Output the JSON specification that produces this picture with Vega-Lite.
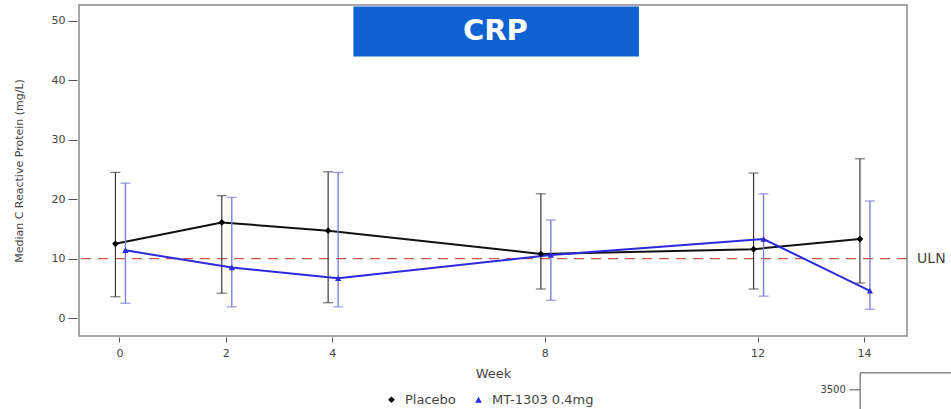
{
  "$schema": "https://vega.github.io/schema/vega-lite/v6.json",
  "width": 828,
  "height": 331,
  "autosize": {"type": "none"},
  "padding": {"left": 79, "top": 5, "right": 44, "bottom": 73},
  "background": "white",
  "config": {
    "font": "DejaVu Sans",
    "view": {"stroke": "#8a8a8a", "strokeWidth": 1.5}
  },
  "datasets": {
    "crp": [
      {"week": 0, "group": "Placebo", "median": 12.5, "lower": 3.6, "upper": 24.5},
      {"week": 2, "group": "Placebo", "median": 16.1, "lower": 4.2, "upper": 20.6},
      {"week": 4, "group": "Placebo", "median": 14.7, "lower": 2.6, "upper": 24.6},
      {"week": 8, "group": "Placebo", "median": 10.8, "lower": 4.9, "upper": 20.9},
      {"week": 12, "group": "Placebo", "median": 11.6, "lower": 4.9, "upper": 24.4},
      {"week": 14, "group": "Placebo", "median": 13.3, "lower": 5.9, "upper": 26.8},
      {"week": 0, "group": "MT-1303 0.4mg", "median": 11.4, "lower": 2.5, "upper": 22.7},
      {"week": 2, "group": "MT-1303 0.4mg", "median": 8.5, "lower": 1.9, "upper": 20.3},
      {"week": 4, "group": "MT-1303 0.4mg", "median": 6.7, "lower": 1.9, "upper": 24.5},
      {"week": 8, "group": "MT-1303 0.4mg", "median": 10.6, "lower": 3.0, "upper": 16.5},
      {"week": 12, "group": "MT-1303 0.4mg", "median": 13.3, "lower": 3.7, "upper": 20.9},
      {"week": 14, "group": "MT-1303 0.4mg", "median": 4.6, "lower": 1.5, "upper": 19.7}
    ],
    "titlebox": [{"x": 4.40, "x2": 9.77, "y": 52.4, "y2": 44.0, "xc": 7.07, "yc": 48.2, "label": "CRP"}],
    "uln": [{"x": 15.0, "y": 10, "label": "ULN"}],
    "frag": [{"x": 13.93, "x2": 15.7, "y": -9.19, "y2": -15.5, "tx": 13.66, "ty": -12.05, "label": "3500", "tk1": 13.73, "tk2": 13.93}]
  },
  "layer": [
    {
      "data": {"name": "titlebox"},
      "mark": {"type": "rect", "color": "#0f62d2"},
      "encoding": {
        "x": {"field": "x", "type": "quantitative", "scale": {"domain": [-0.76, 14.81], "nice": false, "zero": false},
          "axis": {"values": [0, 2, 4, 8, 12, 14], "grid": false, "domain": false, "tickSize": 5, "offset": 1, "tickColor": "#555", "labelFontSize": 11, "labelColor": "#444", "labelPadding": 5, "title": "Week", "titleFontSize": 13, "titleFontWeight": "normal", "titleColor": "#444", "titlePadding": 9}},
        "x2": {"field": "x2"},
        "y": {"field": "y", "type": "quantitative", "scale": {"domain": [-3, 52.65], "nice": false, "zero": false},
          "axis": {"values": [0, 10, 20, 30, 40, 50], "grid": false, "domain": false, "tickSize": 9, "offset": 2, "tickColor": "#555", "labelFontSize": 11, "labelColor": "#444", "labelPadding": 3, "title": "Median C Reactive Protein (mg/L)", "titleFontSize": 11, "titleFontWeight": "normal", "titleColor": "#444", "titlePadding": 27}},
        "y2": {"field": "y2"}
      }
    },
    {
      "data": {"name": "titlebox"},
      "mark": {"type": "text", "color": "white", "fontWeight": "bold", "fontSize": 29, "align": "center", "baseline": "middle", "font": "DejaVu Sans"},
      "encoding": {
        "x": {"field": "xc", "type": "quantitative"},
        "y": {"field": "yc", "type": "quantitative"},
        "text": {"field": "label"}
      }
    },
    {
      "data": {"name": "uln"},
      "mark": {"type": "rule", "color": "#d25050", "strokeDash": [10, 7], "strokeWidth": 1.2},
      "encoding": {"y": {"field": "y", "type": "quantitative"}}
    },
    {
      "data": {"name": "uln"},
      "mark": {"type": "text", "color": "#444", "fontSize": 14, "align": "left", "baseline": "middle"},
      "encoding": {
        "x": {"field": "x", "type": "quantitative"},
        "y": {"field": "y", "type": "quantitative"},
        "text": {"field": "label"}
      }
    },
    {
      "data": {"name": "crp"},
      "transform": [{"filter": "datum.group === 'Placebo'"}],
      "layer": [
        {"mark": {"type": "rule", "color": "#3a3a3a", "strokeWidth": 1.2, "xOffset": -4},
          "encoding": {"x": {"field": "week", "type": "quantitative"}, "y": {"field": "lower", "type": "quantitative"}, "y2": {"field": "upper"}}},
        {"mark": {"type": "tick", "orient": "horizontal", "color": "#3a3a3a", "thickness": 1.2, "size": 10, "xOffset": -4},
          "encoding": {"x": {"field": "week", "type": "quantitative"}, "y": {"field": "upper", "type": "quantitative"}}},
        {"mark": {"type": "tick", "orient": "horizontal", "color": "#3a3a3a", "thickness": 1.2, "size": 10, "xOffset": -4},
          "encoding": {"x": {"field": "week", "type": "quantitative"}, "y": {"field": "lower", "type": "quantitative"}}},
        {"mark": {"type": "line", "color": "#111111", "strokeWidth": 2, "xOffset": -4},
          "encoding": {"x": {"field": "week", "type": "quantitative"}, "y": {"field": "median", "type": "quantitative"}}}
      ]
    },
    {
      "data": {"name": "crp"},
      "transform": [{"filter": "datum.group !== 'Placebo'"}],
      "layer": [
        {"mark": {"type": "rule", "color": "#7d7dd8", "strokeWidth": 1.4, "xOffset": 6},
          "encoding": {"x": {"field": "week", "type": "quantitative"}, "y": {"field": "lower", "type": "quantitative"}, "y2": {"field": "upper"}}},
        {"mark": {"type": "tick", "orient": "horizontal", "color": "#7d7dd8", "thickness": 1.4, "size": 10, "xOffset": 6},
          "encoding": {"x": {"field": "week", "type": "quantitative"}, "y": {"field": "upper", "type": "quantitative"}}},
        {"mark": {"type": "tick", "orient": "horizontal", "color": "#7d7dd8", "thickness": 1.4, "size": 10, "xOffset": 6},
          "encoding": {"x": {"field": "week", "type": "quantitative"}, "y": {"field": "lower", "type": "quantitative"}}},
        {"mark": {"type": "line", "color": "#2b2bdc", "strokeWidth": 2, "xOffset": 6},
          "encoding": {"x": {"field": "week", "type": "quantitative"}, "y": {"field": "median", "type": "quantitative"}}}
      ]
    },
    {
      "data": {"name": "crp"},
      "transform": [{"filter": "datum.group === 'Placebo'"}],
      "mark": {"type": "point", "filled": true, "opacity": 1, "size": 45, "xOffset": -4},
      "encoding": {
        "x": {"field": "week", "type": "quantitative"},
        "y": {"field": "median", "type": "quantitative"},
        "color": {"field": "group", "type": "nominal", "scale": {"domain": ["Placebo", "MT-1303 0.4mg"], "range": ["#000000", "#2b2bdc"]},
          "legend": {"orient": "none", "legendX": 306, "legendY": 388, "direction": "horizontal", "title": null, "labelFontSize": 13, "labelColor": "#444", "symbolSize": 45, "columnPadding": 16, "labelOffset": 7}},
        "shape": {"field": "group", "type": "nominal", "scale": {"domain": ["Placebo", "MT-1303 0.4mg"], "range": ["diamond", "triangle-up"]}}
      }
    },
    {
      "data": {"name": "crp"},
      "transform": [{"filter": "datum.group !== 'Placebo'"}],
      "mark": {"type": "point", "filled": true, "opacity": 1, "size": 40, "xOffset": 6},
      "encoding": {
        "x": {"field": "week", "type": "quantitative"},
        "y": {"field": "median", "type": "quantitative"},
        "color": {"field": "group", "type": "nominal"},
        "shape": {"field": "group", "type": "nominal"}
      }
    },
    {
      "data": {"name": "frag"},
      "mark": {"type": "rule", "color": "#8a8a8a", "strokeWidth": 1.5},
      "encoding": {"x": {"field": "x", "type": "quantitative"}, "x2": {"field": "x2"}, "y": {"field": "y", "type": "quantitative"}}
    },
    {
      "data": {"name": "frag"},
      "mark": {"type": "rule", "color": "#8a8a8a", "strokeWidth": 1.5},
      "encoding": {"x": {"field": "x", "type": "quantitative"}, "y": {"field": "y", "type": "quantitative"}, "y2": {"field": "y2"}}
    },
    {
      "data": {"name": "frag"},
      "mark": {"type": "rule", "color": "#555", "strokeWidth": 1},
      "encoding": {"x": {"field": "tk1", "type": "quantitative"}, "x2": {"field": "tk2"}, "y": {"field": "ty", "type": "quantitative"}}
    },
    {
      "data": {"name": "frag"},
      "mark": {"type": "text", "color": "#444", "fontSize": 10, "align": "right", "baseline": "middle"},
      "encoding": {"x": {"field": "tx", "type": "quantitative"}, "y": {"field": "ty", "type": "quantitative"}, "text": {"field": "label"}}
    }
  ]
}
